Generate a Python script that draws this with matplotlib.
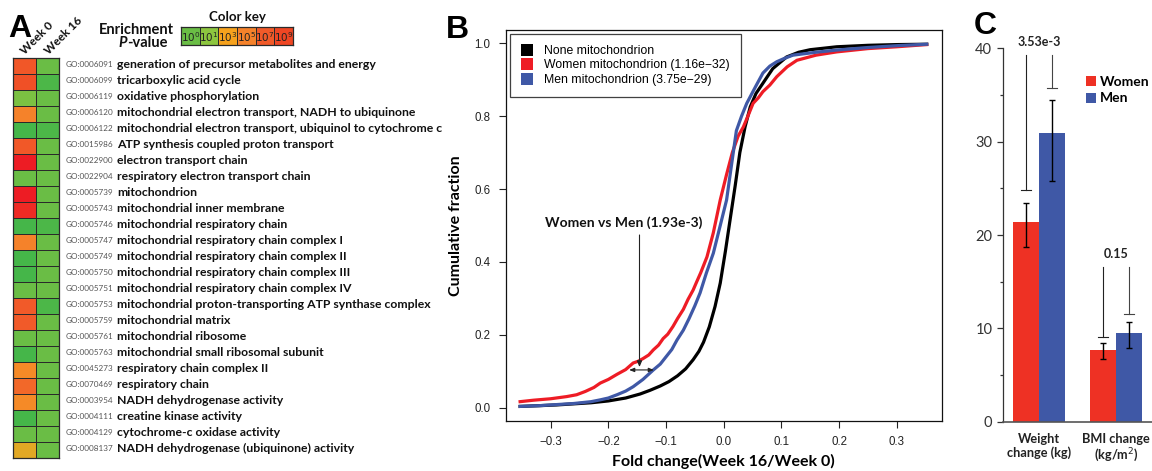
import matplotlib
matplotlib.use("Agg")
import matplotlib.pyplot as plt
import numpy as np
from matplotlib.colors import LinearSegmentedColormap, Normalize
from matplotlib.lines import Line2D

# ---------------- data ----------------
go_ids = ["GO:0006091", "GO:0006099", "GO:0006119", "GO:0006120", "GO:0006122",
          "GO:0015986", "GO:0022900", "GO:0022904", "GO:0005739", "GO:0005743",
          "GO:0005746", "GO:0005747", "GO:0005749", "GO:0005750", "GO:0005751",
          "GO:0005753", "GO:0005759", "GO:0005761", "GO:0005763", "GO:0045273",
          "GO:0070469", "GO:0003954", "GO:0004111", "GO:0004129", "GO:0008137"]
go_terms = ["generation of precursor metabolites and energy",
            "tricarboxylic acid cycle",
            "oxidative phosphorylation",
            "mitochondrial electron transport, NADH to ubiquinone",
            "mitochondrial electron transport, ubiquinol to cytochrome c",
            "ATP synthesis coupled proton transport",
            "electron transport chain",
            "respiratory electron transport chain",
            "mitochondrion",
            "mitochondrial inner membrane",
            "mitochondrial respiratory chain",
            "mitochondrial respiratory chain complex I",
            "mitochondrial respiratory chain complex II",
            "mitochondrial respiratory chain complex III",
            "mitochondrial respiratory chain complex IV",
            "mitochondrial proton-transporting ATP synthase complex",
            "mitochondrial matrix",
            "mitochondrial ribosome",
            "mitochondrial small ribosomal subunit",
            "respiratory chain complex II",
            "respiratory chain",
            "NADH dehydrogenase activity",
            "creatine kinase activity",
            "cytochrome-c oxidase activity",
            "NADH dehydrogenase (ubiquinone) activity"]
week0_level = [7.3, 8.0, 0.5, 5.0, -0.5, 7.2, 11.0, 0.0, 11.0, 10.3,
               -0.5, 5.0, -0.5, -0.5, 0.0, 7.0, 7.0, 0.0, -0.5, 4.5,
               6.3, 4.5, -0.5, 0.0, 2.6]
week16_level = [0.0, -0.4, 0.0, 0.0, -0.4, 0.0, 0.0, 0.0, 0.0, 0.0,
                -0.4, 0.0, 0.0, 0.0, 0.0, -0.4, 0.0, 0.0, 0.0, 0.0,
                0.0, 0.0, 0.0, 0.0, 0.0]
key_exponents = [0, 1, 3, 5, 7, 9]

# Panel B: cumulative fraction curves
none_x = [-0.353, -0.32, -0.29, -0.26, -0.23, -0.20, -0.17, -0.145, -0.128, -0.11,
          -0.095, -0.08, -0.066, -0.053, -0.043, -0.035, -0.025, -0.015, -0.006, 0.003,
          0.011, 0.020, 0.028, 0.037, 0.046, 0.056, 0.068, 0.085, 0.109, 0.13,
          0.15, 0.196, 0.25, 0.30, 0.352]
none_y = [0.004, 0.006, 0.008, 0.011, 0.014, 0.019, 0.027, 0.038, 0.048, 0.060,
          0.072, 0.088, 0.107, 0.132, 0.155, 0.180, 0.222, 0.278, 0.342, 0.43,
          0.515, 0.61, 0.70, 0.77, 0.825, 0.862, 0.89, 0.93, 0.962, 0.975,
          0.982, 0.99, 0.994, 0.996, 0.997]
women_x = [-0.353, -0.33, -0.30, -0.272, -0.255, -0.24, -0.225, -0.214, -0.20, -0.185,
           -0.17, -0.157, -0.148, -0.14, -0.13, -0.122, -0.113, -0.105, -0.097, -0.088,
           -0.08, -0.07, -0.062, -0.053, -0.047, -0.04, -0.029, -0.018, -0.006, 0.005,
           0.015, 0.025, 0.034, 0.042, 0.051, 0.06, 0.068, 0.08, 0.092, 0.11,
           0.127, 0.16, 0.196, 0.25, 0.30, 0.352]
women_y = [0.017, 0.021, 0.025, 0.031, 0.036, 0.045, 0.056, 0.068, 0.078, 0.092,
           0.105, 0.123, 0.128, 0.135, 0.145, 0.159, 0.172, 0.19, 0.202, 0.223,
           0.245, 0.27, 0.297, 0.323, 0.345, 0.37, 0.414, 0.48, 0.57, 0.64,
           0.70, 0.745, 0.77, 0.80, 0.835, 0.85, 0.867, 0.885, 0.908, 0.935,
           0.953, 0.967, 0.976, 0.985, 0.99, 0.996]
men_x = [-0.353, -0.32, -0.29, -0.26, -0.23, -0.214, -0.20, -0.185, -0.17, -0.157,
         -0.14, -0.122, -0.11, -0.10, -0.09, -0.081, -0.07, -0.06, -0.05, -0.041,
         -0.03, -0.018, -0.006, 0.005, 0.013, 0.022, 0.031, 0.040, 0.055, 0.068,
         0.08, 0.092, 0.105, 0.120, 0.16, 0.196, 0.25, 0.30, 0.352]
men_y = [0.004, 0.006, 0.009, 0.012, 0.017, 0.022, 0.027, 0.036, 0.046, 0.058,
         0.078, 0.104, 0.12, 0.14, 0.16, 0.186, 0.213, 0.245, 0.28, 0.315,
         0.37, 0.424, 0.50, 0.57, 0.66, 0.76, 0.80, 0.835, 0.88, 0.918,
         0.937, 0.949, 0.958, 0.967, 0.975, 0.981, 0.988, 0.993, 0.997]
curve_labels = ["None mitochondrion", "Women mitochondrion (1.16e\u221232)",
                "Men mitochondrion (3.75e\u221229)"]
compare_label = "Women vs Men (1.93e-3)"
compare_x = -0.146          # fold change where the groups are compared
compare_y = (0.112, 0.474)  # arrow span
compare_span = (-0.164, -0.121, 0.104)

# Panel C: bars
c_categories = ["Weight\nchange (kg)", "BMI change\n(kg/m$^{2}$)"]
women_vals = [21.4, 7.68]
men_vals = [30.9, 9.54]
women_err_low = [2.7, 0.96]
women_err_high = [2.0, 0.72]
men_err_low = [5.1, 1.64]
men_err_high = [3.6, 1.14]
pvals = ["3.53e-3", "0.15"]
bracket_top = [39.3, 16.6]
bracket_women_bottom = [24.8, 9.1]
bracket_men_bottom = [35.8, 11.5]

# ---------------- style ----------------
RED = "#EE3124"
BLUE = "#3F58A6"
W, H = 1152, 471
fig = plt.figure(figsize=(W / 100, H / 100), dpi=100)

def fx(x):
    return x / W

def fy(y):
    return 1 - y / H

BOLD = dict(family="Lato", fontweight="bold")

# ---------------- Panel A ----------------
cmap_levels = [-0.5, 0, 1, 3, 5, 7, 9, 11]
cmap_colors = ["#45B649", "#6ABD45", "#8DC63F", "#F7A11D", "#F5822A",
               "#F15A29", "#EF4623", "#ED1C24"]
lo, hi = cmap_levels[0], cmap_levels[-1]
cmap = LinearSegmentedColormap.from_list(
    "enrich", [((l - lo) / (hi - lo), c) for l, c in zip(cmap_levels, cmap_colors)])
norm = Normalize(lo, hi)

n = len(go_ids)
top_px, bot_px = 57.5, 458.0
axA = fig.add_axes([fx(13.3), fy(bot_px), fx(58.7 - 13.3), (bot_px - top_px) / H])
mat = np.array([week0_level, week16_level]).T
axA.pcolormesh(mat, cmap=cmap, norm=norm, edgecolors="#2a2a2a", linewidth=0.7)
axA.set_xlim(0, 2)
axA.set_ylim(n, 0)
axA.set_xticks([]); axA.set_yticks([])
for s in axA.spines.values():
    s.set_linewidth(0.9); s.set_color("#2a2a2a")

row_h = (bot_px - top_px) / n
for i, (gid, term) in enumerate(zip(go_ids, go_terms)):
    yc = top_px + row_h * (i + 0.5) - 1.5
    fig.text(fx(66), fy(yc), gid, family="Lato", fontsize=5.9, color="#555555",
             ha="left", va="center")
    fig.text(fx(117), fy(yc), term, fontsize=8.8, color="#111111",
             ha="left", va="center", **BOLD)

for xx, lab in zip([25, 49], ["Week 0", "Week 16"]):
    fig.text(fx(xx), fy(55), lab, rotation=45, rotation_mode="anchor",
             ha="left", va="baseline", fontsize=8.5, color="#111111", **BOLD)

fig.text(fx(8), fy(37), "A", family="Liberation Sans", fontweight="bold",
         fontsize=23, ha="left", va="baseline")
fig.text(fx(136), fy(30), "Enrichment", fontsize=10.5, ha="center", va="center",
         color="#111111", **BOLD)
fig.text(fx(127), fy(43), "P", fontsize=10.5, ha="right", va="center",
         color="#111111", family="Lato", fontweight="bold", fontstyle="italic")
fig.text(fx(127), fy(43), "-value", fontsize=10.5, ha="left", va="center",
         color="#111111", **BOLD)
fig.text(fx(237), fy(17), "Color key", fontsize=9.5, ha="center", va="center",
         color="#111111", **BOLD)

axK = fig.add_axes([fx(181), fy(45), fx(293 - 181), 18 / H])
axK.pcolormesh(np.array([key_exponents]), cmap=cmap, norm=norm,
               edgecolors="#2a2a2a", linewidth=0.7)
for j, e in enumerate(key_exponents):
    axK.text(j + 0.5, 0.45, r"$10^{%d}$" % e, ha="center", va="center",
             fontsize=7.5, color="#222222")
axK.set_xlim(0, len(key_exponents)); axK.set_ylim(0, 1)
axK.set_xticks([]); axK.set_yticks([])
for s in axK.spines.values():
    s.set_linewidth(0.9); s.set_color("#2a2a2a")

# ---------------- Panel B ----------------
axB = fig.add_axes([fx(505.7), fy(421), fx(941.7 - 505.7), (421 - 30) / H])
lw = 2.3
axB.plot(none_x, none_y, color="black", lw=lw, solid_joinstyle="round")
axB.plot(women_x, women_y, color="#EE1C25", lw=lw, solid_joinstyle="round")
axB.plot(men_x, men_y, color="#3F58A6", lw=lw, solid_joinstyle="round")
axB.set_xlim(-0.378, 0.378)
axB.set_ylim(-0.036, 1.036)
axB.set_xticks([-0.3, -0.2, -0.1, 0.0, 0.1, 0.2, 0.3])
axB.set_xticklabels(["\u22120.3", "\u22120.2", "\u22120.1", "0.0", "0.1", "0.2", "0.3"])
axB.set_yticks([0.0, 0.2, 0.4, 0.6, 0.8, 1.0])
axB.set_yticklabels(["0.0", "0.2", "0.4", "0.6", "0.8", "1.0"])
axB.tick_params(direction="out", length=5, width=0.8, labelsize=8.3, colors="#222222",
                pad=6)
for lab in axB.get_xticklabels() + axB.get_yticklabels():
    lab.set_family("Liberation Sans")
for s in axB.spines.values():
    s.set_linewidth(0.9); s.set_color("#111111")
axB.set_ylabel("Cumulative fraction", fontsize=11.5, labelpad=8, **BOLD)
axB.set_xlabel("Fold change(Week 16/Week 0)", fontsize=11.5, labelpad=4, **BOLD)

handles = [Line2D([], [], ls="none", marker="s", markersize=8, color=c, markeredgewidth=0)
           for c in ["black", "#EE1C25", "#3F58A6"]]
leg = axB.legend(handles, curve_labels, loc="upper left", bbox_to_anchor=(0.01, 0.99),
                 borderaxespad=0, frameon=True, fancybox=False, handlelength=1.0,
                 handletextpad=0.9, labelspacing=0.2, borderpad=0.9,
                 prop=dict(family="Liberation Sans", size=8.8))
leg.get_frame().set_edgecolor("#111111")
leg.get_frame().set_linewidth(0.9)

axB.annotate("", xy=(compare_x, compare_y[0]), xytext=(compare_x, compare_y[1]),
             arrowprops=dict(arrowstyle="-|>,head_length=0.35,head_width=0.15",
                             color="#222222", lw=0.8, shrinkA=0, shrinkB=0))
axB.annotate("", xy=(compare_span[0], compare_span[2]), xytext=(compare_span[1], compare_span[2]),
             arrowprops=dict(arrowstyle="<|-|>,head_length=0.3,head_width=0.12",
                             color="#222222", lw=0.8, shrinkA=0, shrinkB=0))
axB.text(-0.174, 0.507, compare_label, ha="center", va="center", fontsize=10,
         color="#111111", **BOLD)
fig.text(fx(446), fy(38), "B", family="Liberation Sans", fontweight="bold",
         fontsize=23, ha="left", va="baseline")

# ---------------- Panel C ----------------
axC = fig.add_axes([fx(1002.7), fy(421.7), fx(W - 1002.7), (421.7 - 48.3) / H])
xs = np.arange(len(c_categories))
bw = 0.334
axC.bar(xs - bw / 2, women_vals, bw, color=RED, linewidth=0)
axC.bar(xs + bw / 2, men_vals, bw, color=BLUE, linewidth=0)
axC.errorbar(xs - bw / 2, women_vals, yerr=[women_err_low, women_err_high], fmt="none",
             ecolor="black", elinewidth=1.0, capsize=2.5, capthick=1.0)
axC.errorbar(xs + bw / 2, men_vals, yerr=[men_err_low, men_err_high], fmt="none",
             ecolor="black", elinewidth=1.0, capsize=2.5, capthick=1.0)
cap = 0.065
for i in range(len(xs)):
    xw, xm = xs[i] - bw / 2, xs[i] + bw / 2
    axC.plot([xw, xw], [bracket_women_bottom[i], bracket_top[i]], color="#222222", lw=0.8,
             clip_on=False)
    axC.plot([xw - cap, xw + cap], [bracket_women_bottom[i]] * 2, color="#222222", lw=0.8)
    axC.plot([xm, xm], [bracket_men_bottom[i], bracket_top[i]], color="#444444", lw=0.8,
             clip_on=False)
    axC.plot([xm - cap, xm + cap], [bracket_men_bottom[i]] * 2, color="#444444", lw=0.8)
    axC.text(xs[i], bracket_top[i] + 1.4, pvals[i], ha="center", va="center",
             fontsize=9, color="#222222", clip_on=False, **BOLD)
axC.set_xlim(-0.471, 1.468)
axC.set_ylim(0, 40)
axC.set_yticks([0, 10, 20, 30, 40])
axC.set_yticks([5, 15, 25, 35], minor=True)
axC.tick_params(axis="y", which="major", direction="out", length=4, width=0.9,
                labelsize=10.5, colors="#333333")
axC.tick_params(axis="y", which="minor", direction="out", length=2.5, width=0.9,
                colors="#333333")
for lab in axC.get_yticklabels():
    lab.set_family("Lato")
axC.set_xticks(xs)
axC.set_xticklabels(c_categories, linespacing=1.1)
axC.tick_params(axis="x", length=0, pad=8)
for lab in axC.get_xticklabels():
    lab.set_family("Lato")
    lab.set_fontweight("bold")
    lab.set_fontsize(9.2)
    lab.set_color("#222222")
axC.spines["top"].set_visible(False)
axC.spines["right"].set_visible(False)
axC.spines["left"].set_color("#333333"); axC.spines["left"].set_linewidth(0.9)
axC.spines["bottom"].set_color("#555555"); axC.spines["bottom"].set_linewidth(1.2)

handlesC = [Line2D([], [], ls="none", marker="s", markersize=7.5, color=c, markeredgewidth=0)
            for c in [RED, BLUE]]
legC = axC.legend(handlesC, ["Women", "Men"], loc="upper left",
                  bbox_to_anchor=(0.565, 0.925), frameon=False, handlelength=0.6,
                  handletextpad=0.3, labelspacing=0.3, borderpad=0, borderaxespad=0,
                  prop=dict(family="Lato", weight="bold", size=10))
fig.text(fx(974), fy(34), "C", family="Liberation Sans", fontweight="bold",
         fontsize=23, ha="left", va="baseline")

fig.savefig("out.png", dpi=100)
